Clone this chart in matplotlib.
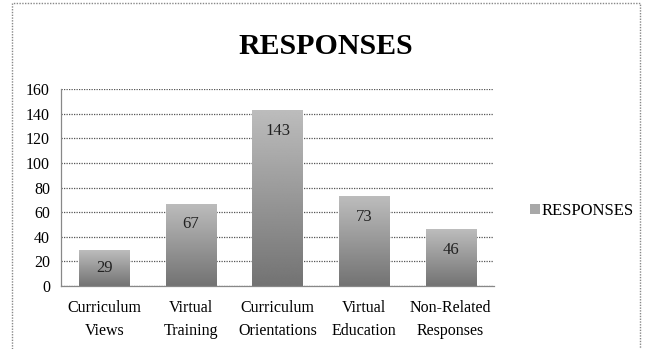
import numpy as np
import matplotlib.pyplot as plt
from matplotlib.patches import Rectangle

categories = ["Curriculum\nViews", "Virtual\nTraining", "Curriculum\nOrientations",
              "Virtual\nEducation", "Non-Related\nResponses"]
values = [29, 67, 143, 73, 46]
yticks = [0, 20, 40, 60, 80, 100, 120, 140, 160]

plt.rcParams['font.family'] = ['Liberation Serif', 'DejaVu Serif']

fig = plt.figure(figsize=(6.51, 3.49), dpi=100)
ax = fig.add_axes([61 / 651, 1 - 286 / 349, (494 - 61) / 651, (286 - 89) / 349])

x = np.arange(len(categories))
bars = ax.bar(x, values, width=0.58, color='none', edgecolor='none', zorder=2, label='RESPONSES')

# vertical gradient: darker at bottom, lighter at top
grad = np.linspace(0.45, 0.74, 256).reshape(-1, 1)
for b in bars:
    x0, y0 = b.get_x(), b.get_y()
    w, h = b.get_width(), b.get_height()
    im = ax.imshow(grad, cmap='gray', vmin=0, vmax=1, origin='lower',
                   extent=[x0, x0 + w, y0, y0 + h], aspect='auto', zorder=2,
                   interpolation='bilinear')
    im.set_clip_path(b)

# labels sit inside the top of each bar
for xi, v in zip(x, values):
    ax.text(xi, v - min(17, v / 2), str(v), ha='center', va='center', fontsize=12,
            color='#222222', zorder=3)

ax.set_xlim(-0.5, len(categories) - 0.5)
ax.set_ylim(0, 160)
ax.set_yticks(yticks)
ax.set_xticks(x)
ax.set_xticklabels(categories, fontsize=11.5, linespacing=1.6)
ax.tick_params(axis='y', labelsize=11.5, length=0, pad=8)
ax.tick_params(axis='x', length=0, pad=10)
ax.yaxis.grid(True, linestyle=(0, (1, 1)), color='#555555', linewidth=0.9, zorder=1)
ax.set_axisbelow(True)
for s in ['top', 'right']:
    ax.spines[s].set_visible(False)
for s in ['left', 'bottom']:
    ax.spines[s].set_color('#888888')
    ax.spines[s].set_linewidth(0.9)

# legend
handle = Rectangle((0, 0), 1, 1, facecolor='#a8a8a8', edgecolor='none')
fig.legend([handle], ['RESPONSES'], loc='center left', bbox_to_anchor=(515 / 651, 1 - 211 / 349),
           frameon=False, fontsize=12, handlelength=0.6, handleheight=0.6, handletextpad=0.1)

fig.text(0.5, 1 - 46 / 349, "RESPONSES", ha='center', va='center', fontsize=21.5, fontweight='bold')

# dotted outer frame
frame = Rectangle((12 / 651, -0.05), (640 - 12) / 651, 1.05 - 3 / 349, transform=fig.transFigure,
                  fill=False, edgecolor='#888888', linestyle=(0, (1, 1)), linewidth=1.0)
fig.patches.append(frame)

fig.savefig('out.png', dpi=100)
